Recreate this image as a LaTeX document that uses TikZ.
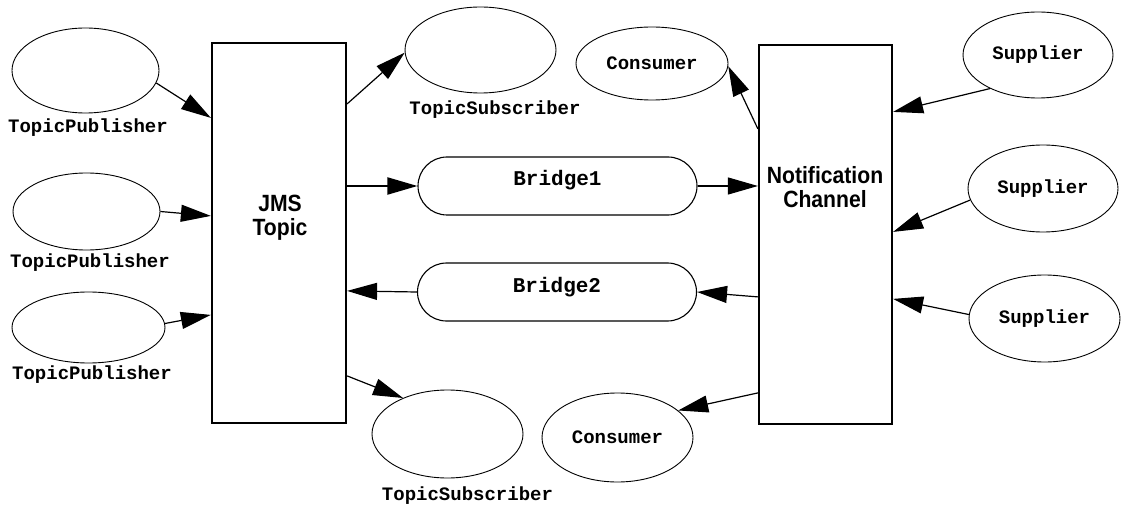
\documentclass[tikz,border=0pt]{standalone}
\usepackage{fontspec}
\setmonofont{Liberation Mono}
\newfontfamily\hsans{Liberation Sans}[FakeStretch=0.9]
\usetikzlibrary{shapes.geometric,arrows.meta,calc}
\begin{document}
\begin{tikzpicture}[x=1pt,y=-1pt,
 oval/.style={ellipse, draw, line width=0.9pt, inner sep=0pt, font=\ttfamily\bfseries\fontsize{19}{22}\selectfont},
 chan/.style={rectangle, draw, line width=2.2pt, inner sep=0pt},
 chantext/.style={font=\hsans\bfseries\fontsize{23.5}{24}\selectfont, align=center, inner sep=0pt},
 pill/.style={rectangle, draw, rounded corners=29pt, line width=1.1pt, minimum width=279pt, minimum height=58pt, inner sep=0pt, text height=12pt, text depth=12pt, font=\ttfamily\bfseries\fontsize{21}{24}\selectfont},
 lbl/.style={font=\ttfamily\bfseries\fontsize{19}{22}\selectfont, inner sep=0pt},
 arr/.style={-{Triangle[length=30pt,width=17pt]}, line width=1.2pt},
]
\useasboundingbox (0,0) rectangle (1122,505);
\node[oval, minimum width=147pt, minimum height=85pt] (tp1) at (85.5,70.5) {};
\node[oval, minimum width=147pt, minimum height=77pt] (tp2) at (86.5,211.5) {};
\node[oval, minimum width=153pt, minimum height=71pt] (tp3) at (88.5,327.5) {};
\node[lbl] (tp1l) at (88,128) {TopicPublisher};
\node[lbl] (tp2l) at (90,263) {TopicPublisher};
\node[lbl] (tp3l) at (92,375) {TopicPublisher};
\node[chan, minimum width=134pt, minimum height=380pt] (jms) at (279,233) {};
\node[chantext] (jmst) at (280,218) {JMS\\Topic};
\node[oval, minimum width=151pt, minimum height=86pt] (ts1) at (480.5,50) {};
\node[lbl] (ts1l) at (495,110) {TopicSubscriber};
\node[oval, minimum width=151pt, minimum height=88pt] (ts2) at (447.5,434) {};
\node[lbl] (ts2l) at (467.5,496) {TopicSubscriber};
\node[pill] (b1) at (557.5,186) {Bridge1};
\node[pill] (b2) at (557,292) {Bridge2};
\node[oval, minimum width=152pt, minimum height=73pt] (c1) at (652,63.5) {Consumer};
\node[oval, minimum width=151pt, minimum height=89pt] (c2) at (617.5,437.5) {Consumer};
\node[chan, minimum width=133pt, minimum height=379pt] (nc) at (825.5,234.5) {};
\node[chantext] (nct) at (825,187) {Notification\\Channel};
\node[oval, minimum width=150pt, minimum height=86pt] (s1) at (1038,55) {Supplier};
\node[oval, minimum width=150pt, minimum height=87pt] (s2) at (1043,188.5) {Supplier};
\node[oval, minimum width=151pt, minimum height=87pt] (s3) at (1044.5,318.5) {Supplier};
\draw[arr] (tp1.-10) -- ($(jms.north west)+(0,76)$);
\draw[arr] (tp2.east) -- ($(jms.north west)+(0,174)$);
\draw[arr] (tp3.3) -- ($(jms.north west)+(0,273)$);
\draw[arr] ($(jms.north east)+(0,62)$) -- (ts1.182);
\draw[arr, line width=2pt] (jms.east |- b1) -- (b1.west);
\draw[arr] (b1.east) -- (nc.west |- b1);
\draw[arr] (b2.west) -- ($(jms.north east)+(0,249)$);
\draw[arr] ($(nc.north west)+(0,253)$) -- (b2.east);
\draw[arr] ($(jms.north east)+(0,334)$) -- (ts2.141);
\draw[arr] ($(nc.north west)+(0,85)$) -- (c1.-2);
\draw[arr] ($(nc.north west)+(0,349)$) -- (c2.24);
\draw[arr] (s1.215) -- ($(nc.north east)+(0,68)$);
\draw[arr] (s2.189) -- ($(nc.north east)+(0,188)$);
\draw[arr] (s3.177) -- ($(nc.north east)+(0,255)$);
\end{tikzpicture}
\end{document}
